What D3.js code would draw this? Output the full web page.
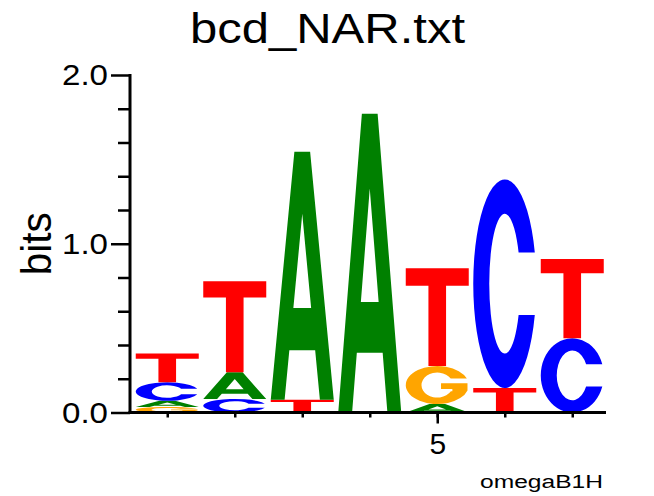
<!DOCTYPE html>
<html>
<head>
<meta charset="utf-8">
<script src="https://cdn.jsdelivr.net/npm/d3@7"></script>
<style>
  html, body { margin: 0; padding: 0; background: #ffffff; }
  svg { display: block; }
  text { font-family: "Liberation Sans", Arial, Helvetica, sans-serif; fill: #000; }
</style>
</head>
<body>
<script>
// ---- data ----
const positions = [1, 2, 3, 4, 5, 6, 7];
const bitsA = [0.036, 0.158, 1.47, 1.77, 0.05, 0, 0];
const bitsC = [0.11, 0.08, 0, 0, 0, 1.236, 0.44];
const bitsG = [0.033, 0, 0, 0, 0.225, 0, 0];
const bitsT = [0.17, 0.54, 0.075, 0, 0.58, 0.145, 0.47];
const yMajorTicks = [0, 1, 2];
const yMinorTicks = [0.2, 0.4, 0.6, 0.8, 1.2, 1.4, 1.6, 1.8];
const xLabelTicks = [5];
const titleText = "bcd_NAR.txt";
const yAxisLabel = "bits";
const footText = "omegaB1H";

const letterColors = { A: "#008000", C: "#0000ff", G: "#ffa500", T: "#ff0000" };

// glyph outlines in a unit box (y down)
const GLYPH = {
  A: "M0,1 L0.375,0 L0.625,0 L1,1 L0.78,1 L0.705,0.8 L0.295,0.8 L0.22,1 Z M0.5,0.25 L0.641,0.63 L0.359,0.63 Z",
  T: "M0,0 H1 V0.18 H0.64 V1 H0.36 V0.18 H0 Z",
  C: "M0.977,0.35 A0.5,0.5 0 1 0 0.977,0.65 L0.72,0.65 A0.246,0.335 0 1 1 0.72,0.35 Z",
  G: "M0.970,0.33 A0.5,0.5 0 1 0 0.98,0.64 L0.98,0.45 L0.56,0.45 L0.56,0.6 L0.74,0.6 L0.74,0.665 L0.7165,0.665 A0.25,0.33 0 1 1 0.714,0.33 Z"
};

const W = 654, H = 496;
const svg = d3.select("body").append("svg").attr("width", W).attr("height", H);

const x = d3.scaleLinear().domain([0.5, 7.5]).range([133.5, 606]);
const y = d3.scaleLinear().domain([0, 2]).range([412.5, 75]);

// ---- letters ----
const cols = positions.map((p, i) => {
  const entries = [
    { l: "A", v: bitsA[i] }, { l: "C", v: bitsC[i] },
    { l: "G", v: bitsG[i] }, { l: "T", v: bitsT[i] }
  ].filter(d => d.v > 0).sort((a, b) => a.v - b.v);
  let cum = 0;
  return entries.map(d => {
    const r = { pos: p, l: d.l, y0: cum, y1: cum + d.v };
    cum += d.v;
    return r;
  });
}).flat();

const gl = svg.append("g");
gl.selectAll("path.letter").data(cols).join("path")
  .attr("class", "letter")
  .attr("d", d => GLYPH[d.l])
  .attr("fill", d => letterColors[d.l])
  .attr("fill-rule", "evenodd")
  .attr("transform", d => {
    const x0 = x(d.pos - 0.5) + 2.25, x1 = x(d.pos + 0.5) - 2.25;
    const yt = y(d.y1), yb = y(d.y0);
    return `translate(${x0},${yt}) scale(${x1 - x0},${yb - yt})`;
  });

// ---- y axis ----
const xAxisX = 130;
const gy = svg.append("g").attr("transform", `translate(${xAxisX},0)`);
gy.call(d3.axisLeft(y).tickValues(yMajorTicks).tickSize(19).tickSizeOuter(0)
  .tickPadding(3).tickFormat(d3.format(".1f")));
gy.select(".domain").remove();
gy.selectAll(".tick line").attr("stroke", "#000").attr("stroke-width", 2.5);
gy.selectAll(".tick text").attr("font-size", 30).attr("fill", "#000")
  .attr("font-family", "Liberation Sans, Arial, sans-serif")
  .attr("textLength", 46).attr("lengthAdjust", "spacingAndGlyphs");

const gyMinor = svg.append("g").attr("transform", `translate(${xAxisX},0)`);
gyMinor.call(d3.axisLeft(y).tickValues(yMinorTicks).tickSize(12).tickSizeOuter(0).tickFormat(""));
gyMinor.select(".domain").remove();
gyMinor.selectAll(".tick line").attr("stroke", "#000").attr("stroke-width", 2.5);

// ---- x axis ----
const gxMinor = svg.append("g").attr("transform", `translate(0,${y(0)})`);
gxMinor.call(d3.axisBottom(x).tickValues(positions).tickSize(5).tickSizeOuter(0).tickFormat(""));
gxMinor.select(".domain").remove();
gxMinor.selectAll(".tick line").attr("stroke", "#000").attr("stroke-width", 2.5);

const gx = svg.append("g").attr("transform", `translate(0,${y(0)})`);
gx.call(d3.axisBottom(x).tickValues(xLabelTicks).tickSize(11).tickSizeOuter(0)
  .tickPadding(9).tickFormat(d3.format("d")));
gx.select(".domain").remove();
gx.selectAll(".tick line").attr("stroke", "#000").attr("stroke-width", 2.5);
gx.selectAll(".tick text").attr("font-size", 30).attr("fill", "#000")
  .attr("font-family", "Liberation Sans, Arial, sans-serif");

// axis lines
svg.append("line")
  .attr("x1", xAxisX).attr("x2", xAxisX)
  .attr("y1", y(2) - 1).attr("y2", y(0) + 1.5)
  .attr("stroke", "#000").attr("stroke-width", 3);
svg.append("line")
  .attr("x1", xAxisX - 1.5).attr("x2", x(7.5))
  .attr("y1", y(0)).attr("y2", y(0))
  .attr("stroke", "#000").attr("stroke-width", 3);

// ---- texts ----
svg.append("text")
  .attr("x", 190).attr("y", 42.5)
  .attr("font-size", 42)
  .attr("textLength", 275).attr("lengthAdjust", "spacingAndGlyphs")
  .text(titleText);

svg.append("text")
  .attr("transform", `translate(50.5,${y(1)}) rotate(-90)`)
  .attr("text-anchor", "middle")
  .attr("font-size", 42)
  .attr("textLength", 63).attr("lengthAdjust", "spacingAndGlyphs")
  .text(yAxisLabel);

svg.append("text")
  .attr("x", 480).attr("y", 487.5)
  .attr("font-size", 18)
  .attr("textLength", 123).attr("lengthAdjust", "spacingAndGlyphs")
  .text(footText);
</script>
</body>
</html>
